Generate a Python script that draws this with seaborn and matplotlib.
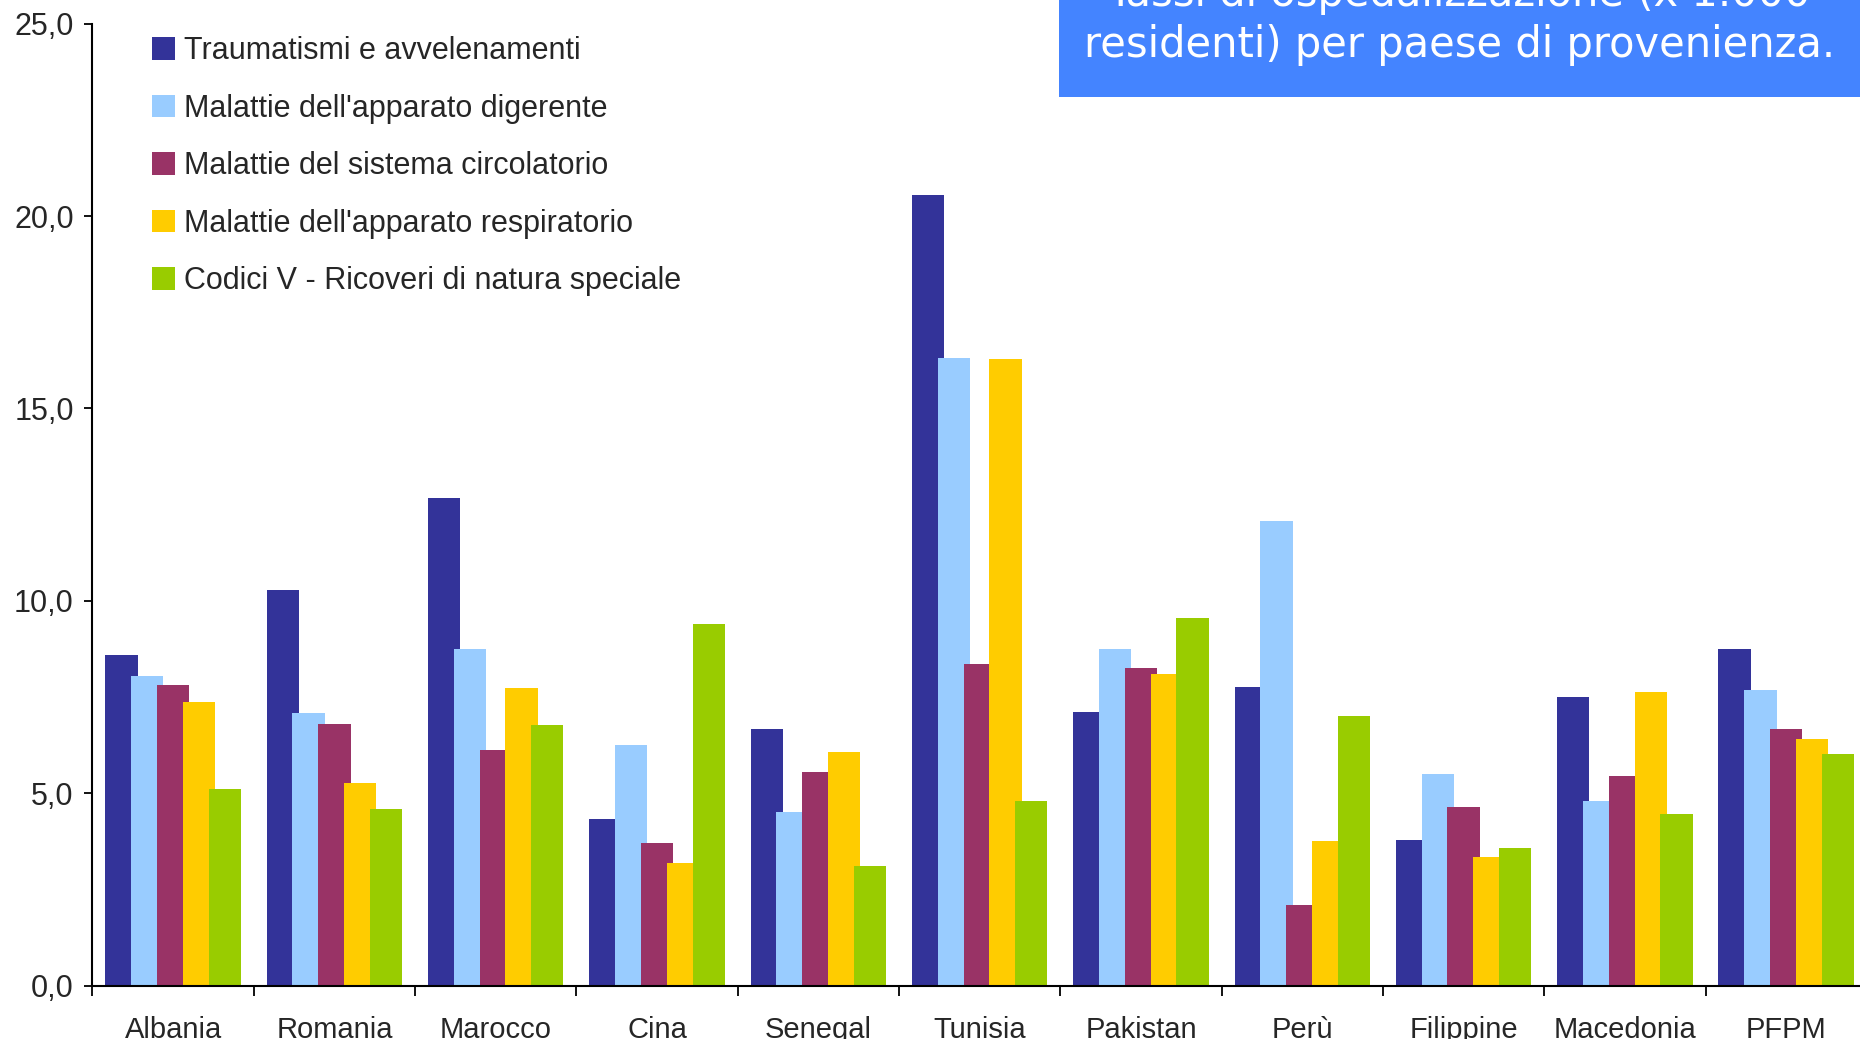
import seaborn as sns
import matplotlib.pyplot as plt
import pandas as pd
import numpy as np
from matplotlib.patches import Rectangle

# valori (tassi x 1.000 residenti)
paesi = ["Albania", "Romania", "Marocco", "Cina", "Senegal", "Tunisia",
         "Pakistan", "Perù", "Filippine", "Macedonia", "PFPM"]
cause = ["Traumatismi e avvelenamenti",
         "Malattie dell'apparato digerente",
         "Malattie del sistema circolatorio",
         "Malattie dell'apparato respiratorio",
         "Codici V - Ricoveri di natura speciale"]
traumatismi = [8.6, 10.27, 12.67, 4.32, 6.66, 20.56, 7.12, 7.77, 3.79, 7.49, 8.75]
digerente = [8.05, 7.09, 8.75, 6.26, 4.50, 16.31, 8.75, 12.08, 5.49, 4.81, 7.68]
circolatorio = [7.8, 6.81, 6.13, 3.70, 5.55, 8.35, 8.26, 2.10, 4.65, 5.46, 6.66]
respiratorio = [7.37, 5.27, 7.74, 3.18, 6.07, 16.28, 8.11, 3.76, 3.33, 7.64, 6.41]
codici_v = [5.12, 4.59, 6.78, 9.40, 3.11, 4.81, 9.56, 7.0, 3.58, 4.47, 6.01]
colori = ["#333399", "#99CCFF", "#993366", "#FFCC00", "#99CC00"]

serie = [traumatismi, digerente, circolatorio, respiratorio, codici_v]
df = pd.DataFrame({
    "Paese": paesi * len(cause),
    "Causa": np.repeat(cause, len(paesi)),
    "Tasso": np.concatenate(serie),
})

sns.set_style("ticks")
plt.rcParams['font.family'] = ['Liberation Sans', 'DejaVu Sans']

fig = plt.figure(figsize=(18.6, 10.39), dpi=100)
ax = fig.add_axes([0.0497, 0.0514, 0.954, 0.9258])

sns.barplot(data=df, x="Paese", y="Tasso", hue="Causa", order=paesi,
            hue_order=cause, palette=colori, width=0.8, gap=0,
            errorbar=None, linewidth=0, saturation=1, ax=ax)

# barre sovrapposte come in Excel, gruppo ricentrato
for p in ax.patches:
    w = p.get_width()
    p.set_width(w * 1.25)
    p.set_x(p.get_x() - 0.02)

ax.set_ylim(0, 25)
ax.set_xlim(-0.5, len(paesi) - 0.5)
ax.set_yticks(np.arange(0, 26, 5))
ax.set_yticklabels([f"{v:.1f}".replace(".", ",") for v in np.arange(0, 26, 5)],
                   fontsize=22)
ax.set_xticks(range(len(paesi)))
ax.set_xticklabels(paesi, fontsize=21)
ax.set_xticks(np.arange(-0.5, len(paesi), 1), minor=True)
ax.tick_params(axis="x", which="major", length=0, pad=22)
ax.tick_params(axis="x", which="minor", length=7, width=1.3, color="black")
ax.tick_params(axis="y", length=6, width=1.3, pad=7.5, color="black")
ax.set_xlabel("")
ax.set_ylabel("")
for s in ["left", "bottom"]:
    ax.spines[s].set_linewidth(1.5)
    ax.spines[s].set_color("black")
sns.despine(ax=ax)

handles, labels = ax.get_legend_handles_labels()
ax.legend(handles, labels, frameon=False, fontsize=22, loc="upper left",
          bbox_to_anchor=(140 / 1860, 1 - 24 / 1039),
          bbox_transform=fig.transFigure, handlelength=0.75,
          handleheight=0.75, handletextpad=0.28, labelspacing=0.9,
          borderaxespad=0)

# riquadro del titolo
fig.add_artist(Rectangle((1059 / 1860, 1 - 97 / 1039), 1 - 1059 / 1860,
                         97 / 1039, transform=fig.transFigure,
                         facecolor="#4484FF", edgecolor="none", zorder=5))
fig.text(0.7845, 1 - 6 / 1039, "Tassi di ospedalizzazione (x 1.000",
         color="white", fontsize=30, ha="center", va="baseline",
         family="DejaVu Sans", zorder=6)
fig.text(0.7845, 1 - 57 / 1039, "residenti) per paese di provenienza.",
         color="white", fontsize=30, ha="center", va="baseline",
         family="DejaVu Sans", zorder=6)

fig.savefig("out.png", dpi=100)
